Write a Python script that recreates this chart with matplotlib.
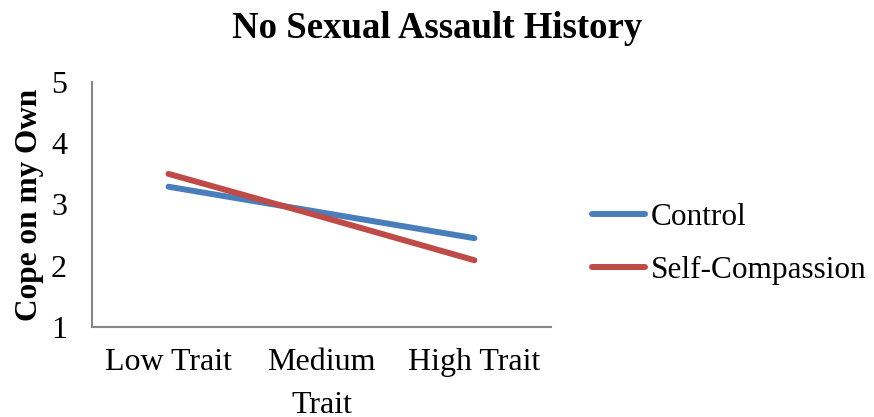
import matplotlib.pyplot as plt

categories = ["Low Trait", "Medium\nTrait", "High Trait"]
control = [3.29, 2.87, 2.45]
self_compassion = [3.50, 2.80, 2.09]

plt.rcParams['font.family'] = ['Liberation Serif', 'DejaVu Serif']

fig = plt.figure(figsize=(8.74, 4.17), dpi=100)
ax = fig.add_axes([0.1053, 0.2158, 0.525, 0.5876])

x = range(len(categories))
ax.plot(x, control, color='#4A7EBB', linewidth=4.3, solid_capstyle='round', label='Control')
ax.plot(x, self_compassion, color='#BE4B48', linewidth=4.3, solid_capstyle='round', label='Self-Compassion')

ax.set_xlim(-0.5, 2.5)
ax.set_ylim(1, 5)
ax.set_yticks([1, 2, 3, 4, 5])
ax.set_xticks(list(x))
ax.set_xticklabels(categories, fontsize=23, linespacing=1.65)
ax.tick_params(axis='y', labelsize=23, length=0, pad=18)
ax.tick_params(axis='x', length=0, pad=15)

for side in ['top', 'right']:
    ax.spines[side].set_visible(False)
for side in ['left', 'bottom']:
    ax.spines[side].set_color('#868686')
    ax.spines[side].set_linewidth(1.5)

ax.set_ylabel("Cope on my Own", fontsize=22.5, fontweight='bold', labelpad=5)
fig.text(0.5, 1 - 38 / 417, "No Sexual Assault History", fontsize=26.5,
         fontweight='bold', ha='center', va='baseline')

ax.legend(loc='center left', bbox_to_anchor=(592 / 874, 1 - 244 / 417),
          bbox_transform=fig.transFigure, frameon=False, borderpad=0, borderaxespad=0,
          fontsize=22.5, handlelength=1.7, handletextpad=0.17, labelspacing=0.75)

fig.savefig("out.png", dpi=100)
